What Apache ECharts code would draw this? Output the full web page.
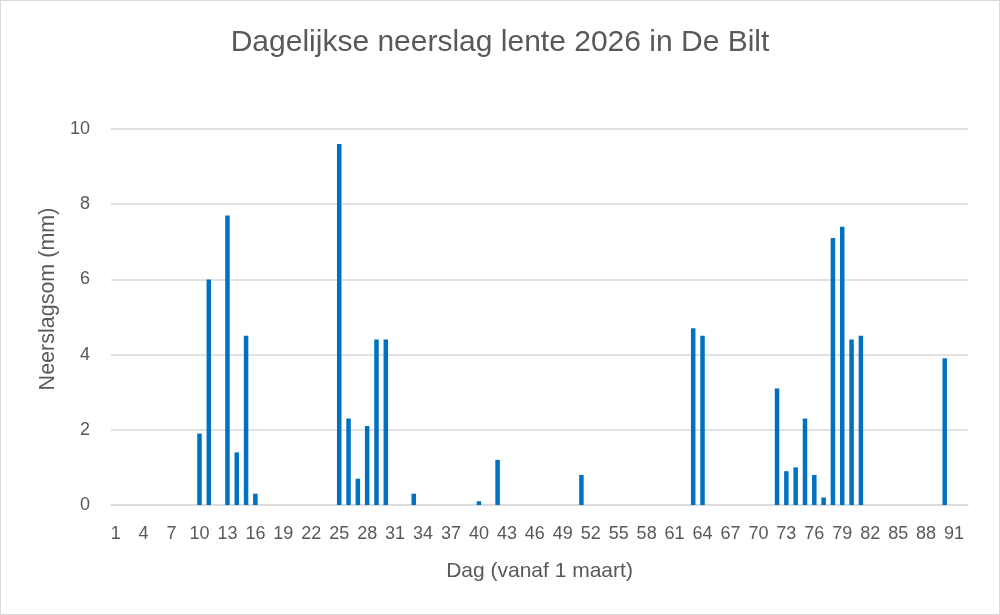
<!DOCTYPE html>
<html>
<head>
<meta charset="utf-8">
<script src="https://cdn.jsdelivr.net/npm/echarts@6/dist/echarts.min.js"></script>
<style>
html,body{margin:0;padding:0;background:#fff;}
#c{width:998px;height:613px;border:1px solid #d9d9d9;}
</style>
</head>
<body>
<div id="c"></div>
<script>
// Days 1..92 (1 March - 31 May)
const days = Array.from({length: 92}, (_, i) => String(i + 1));
// Non-zero rain days [day, mm]
const rainDays = [10, 11, 13, 14, 15, 16, 25, 26, 27, 28, 29, 30, 33, 40, 42, 51, 63, 64, 72, 73, 74, 75, 76, 77, 78, 79, 80, 81, 90];
const rainMm   = [1.9, 6.0, 7.7, 1.4, 4.5, 0.3, 9.6, 2.3, 0.7, 2.1, 4.4, 4.4, 0.3, 0.1, 1.2, 0.8, 4.7, 4.5, 3.1, 0.9, 1.0, 2.3, 0.8, 0.2, 7.1, 7.4, 4.4, 4.5, 3.9];
const yTicks = [0, 2, 4, 6, 8, 10];

const values = days.map(d => {
  const k = rainDays.indexOf(Number(d));
  return k >= 0 ? rainMm[k] : 0;
});

const font = "'Liberation Sans', Arial, sans-serif";
const chart = echarts.init(document.getElementById('c'));
chart.setOption({
  animation: false,
  backgroundColor: '#fff',
  title: {
    text: 'Dagelijkse neerslag lente 2026 in De Bilt',
    left: 'center',
    top: 22,
    textStyle: {fontFamily: font, fontSize: 30, fontWeight: 'normal', color: '#595959'}
  },
  graphic: [{
    type: 'text',
    x: 47,
    y: 298,
    rotation: Math.PI / 2,
    style: {
      text: 'Neerslagsom (mm)',
      fontFamily: font,
      fontSize: 21.5,
      fill: '#595959',
      align: 'center',
      verticalAlign: 'middle'
    }
  }],
  grid: {left: 110, right: 31, top: 128, bottom: 109, containLabel: false},
  xAxis: {
    type: 'category',
    data: days,
    name: 'Dag (vanaf 1 maart)',
    nameLocation: 'middle',
    nameGap: 56,
    nameTextStyle: {fontFamily: font, fontSize: 21, color: '#595959'},
    axisLine: {show: true, lineStyle: {color: '#d9d9d9', width: 1.5}},
    axisTick: {show: false},
    axisLabel: {interval: 2, fontFamily: font, fontSize: 18, color: '#595959', margin: 20}
  },
  yAxis: {
    type: 'value',
    min: yTicks[0],
    max: yTicks[yTicks.length - 1],
    interval: 2,
    axisLine: {show: false},
    axisTick: {show: false},
    axisLabel: {fontFamily: font, fontSize: 18, color: '#595959', margin: 21},
    splitLine: {lineStyle: {color: '#d9d9d9', width: 1.5}}
  },
  series: [{
    type: 'bar',
    data: values,
    barWidth: 4.5,
    itemStyle: {color: '#0070C0'}
  }]
});
</script>
</body>
</html>
